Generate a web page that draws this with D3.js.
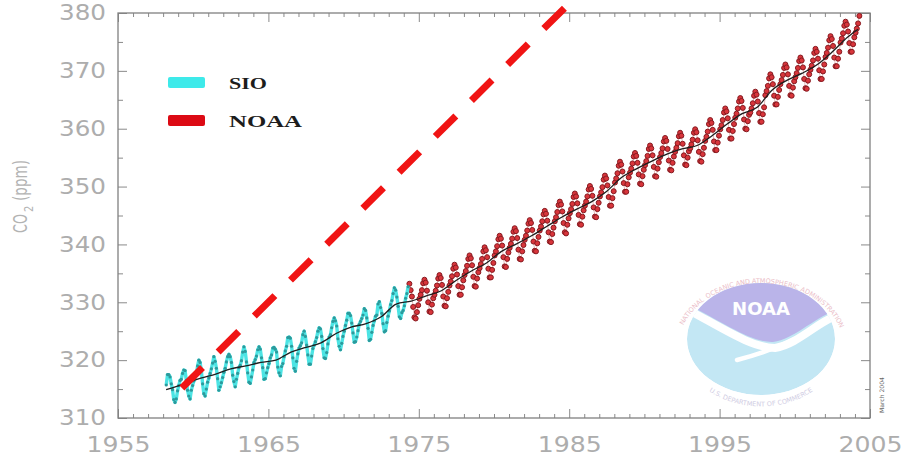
<!DOCTYPE html>
<html>
<head>
<meta charset="utf-8">
<script src="https://cdn.jsdelivr.net/npm/d3@7"></script>
<style>
  html, body { margin: 0; padding: 0; background: #fff; }
  svg { display: block; }
</style>
</head>
<body>
<svg id="chart"></svg>
<script>
// monthly CO2 (ppm), one row per year: [year, Jan..Dec]
const sioRows = [
  [1958, null, null, 315.7, 317.5, 317.5, 317.1, 315.9, 314.9, 313.2, 312.7, 313.3, 314.7],
  [1959, 315.6, 316.5, 316.7, 317.7, 318.3, 318.2, 316.5, 314.8, 313.8, 313.3, 314.8, 315.6],
  [1960, 316.4, 317.0, 317.6, 319.0, 320.0, 319.6, 318.2, 315.9, 314.2, 313.8, 315.0, 316.2],
  [1961, 316.9, 317.7, 318.5, 319.5, 320.6, 319.8, 318.6, 316.8, 314.8, 315.4, 316.1, 317.0],
  [1962, 317.9, 318.6, 319.7, 320.6, 321.0, 320.6, 319.6, 317.4, 316.3, 315.4, 316.7, 317.7],
  [1963, 318.7, 319.1, 319.9, 321.4, 322.3, 321.5, 319.7, 317.8, 316.2, 316.0, 317.1, 318.3],
  [1964, 319.6, 320.1, 320.7, 321.8, 322.3, 321.9, 320.4, 318.7, 316.7, 316.8, 317.8, 318.7],
  [1965, 319.4, 320.4, 320.9, 322.1, 322.2, 321.9, 321.4, 318.8, 317.8, 317.3, 318.9, 319.4],
  [1966, 320.6, 321.6, 322.4, 323.9, 324.0, 323.8, 322.4, 320.4, 318.6, 318.1, 319.8, 321.1],
  [1967, 322.1, 322.5, 323.0, 324.4, 325.0, 324.1, 322.6, 320.9, 319.3, 319.3, 320.7, 322.0],
  [1968, 322.6, 323.2, 323.9, 325.0, 325.6, 325.4, 324.1, 322.0, 320.4, 320.3, 321.3, 322.8],
  [1969, 324.0, 324.4, 325.6, 326.7, 327.3, 326.8, 325.9, 323.7, 322.4, 321.8, 322.9, 324.1],
  [1970, 325.0, 326.0, 326.9, 328.1, 328.1, 327.7, 326.4, 324.7, 323.1, 323.2, 324.0, 325.1],
  [1971, 326.2, 326.7, 327.2, 327.8, 328.9, 328.6, 327.3, 325.5, 323.4, 323.6, 324.8, 326.0],
  [1972, 326.8, 327.6, 327.8, 329.7, 330.1, 329.1, 328.1, 326.3, 324.9, 325.1, 326.5, 327.6],
  [1973, 328.5, 329.6, 330.3, 331.5, 332.5, 332.1, 330.9, 329.3, 327.5, 327.2, 328.2, 328.6],
  [1974, 329.4, 330.7, 331.5, 332.7, null, null, null, null, null, null, null, null]
];

const noaaRows = [
  [1974, null, null, null, null, 333.2, 332.1, 331.0, 329.2, 327.4, 327.2, 328.3, 329.5],
  [1975, 330.6, 331.3, 332.1, 333.3, 333.9, 333.4, 332.0, 330.0, 328.4, 328.3, 329.6, 330.7],
  [1976, 331.3, 332.0, 332.9, 334.1, 334.7, 334.2, 333.0, 331.0, 329.4, 329.3, 330.7, 331.8],
  [1977, 332.9, 333.6, 334.5, 335.8, 336.5, 336.0, 334.8, 332.8, 331.3, 331.3, 332.6, 333.8],
  [1978, 334.7, 335.4, 336.3, 337.5, 338.1, 337.6, 336.4, 334.4, 332.8, 332.7, 334.1, 335.2],
  [1979, 335.9, 336.6, 337.5, 338.8, 339.5, 339.0, 337.8, 335.8, 334.3, 334.3, 335.6, 336.8],
  [1980, 338.1, 338.8, 339.7, 340.9, 341.5, 341.0, 339.8, 337.8, 336.2, 336.1, 337.5, 338.6],
  [1981, 339.4, 340.1, 341.0, 342.2, 342.8, 342.3, 341.1, 339.1, 337.5, 337.4, 338.8, 339.9],
  [1982, 340.8, 341.5, 342.4, 343.6, 344.2, 343.7, 342.5, 340.5, 338.9, 338.8, 340.2, 341.3],
  [1983, 342.4, 343.1, 344.0, 345.2, 345.8, 345.3, 344.1, 342.1, 340.5, 340.4, 341.8, 342.9],
  [1984, 344.0, 344.7, 345.6, 346.8, 347.4, 346.9, 345.7, 343.7, 342.1, 341.9, 343.4, 344.5],
  [1985, 345.4, 346.1, 347.0, 348.2, 348.8, 348.3, 347.1, 345.1, 343.5, 343.4, 344.8, 345.9],
  [1986, 346.7, 347.4, 348.3, 349.5, 350.1, 349.6, 348.4, 346.4, 344.8, 344.7, 346.1, 347.2],
  [1987, 348.3, 349.0, 349.9, 351.2, 351.9, 351.4, 350.2, 348.2, 346.7, 346.7, 348.0, 349.2],
  [1988, 350.7, 351.4, 352.3, 353.6, 354.3, 353.8, 352.6, 350.6, 349.1, 349.1, 350.4, 351.6],
  [1989, 352.4, 353.1, 354.0, 355.2, 355.8, 355.3, 354.1, 352.1, 350.5, 350.4, 351.8, 352.9],
  [1990, 353.7, 354.4, 355.3, 356.5, 357.1, 356.6, 355.4, 353.4, 351.8, 351.7, 353.1, 354.2],
  [1991, 355.1, 355.8, 356.6, 357.8, 358.4, 357.9, 356.5, 354.5, 352.9, 352.8, 354.1, 355.2],
  [1992, 356.0, 356.7, 357.5, 358.7, 359.3, 358.8, 357.4, 355.4, 353.8, 353.7, 355.0, 356.1],
  [1993, 356.6, 357.3, 358.1, 359.3, 359.9, 359.4, 358.0, 356.0, 354.4, 354.3, 355.6, 356.7],
  [1994, 357.9, 358.6, 359.5, 360.8, 361.5, 361.0, 359.8, 357.8, 356.3, 356.3, 357.6, 358.8],
  [1995, 359.9, 360.6, 361.5, 362.8, 363.5, 363.0, 361.8, 359.8, 358.3, 358.3, 359.6, 360.8],
  [1996, 361.9, 362.6, 363.5, 364.7, 365.3, 364.8, 363.6, 361.6, 360.0, 359.9, 361.3, 362.4],
  [1997, 362.8, 363.5, 364.4, 365.7, 366.4, 365.9, 364.7, 362.7, 361.2, 361.2, 362.5, 363.7],
  [1998, 365.8, 366.5, 367.4, 368.7, 369.4, 368.9, 367.7, 365.7, 364.2, 364.2, 365.5, 366.7],
  [1999, 367.7, 368.4, 369.3, 370.5, 371.1, 370.6, 369.4, 367.4, 365.8, 365.7, 367.1, 368.2],
  [2000, 368.9, 369.6, 370.5, 371.7, 372.3, 371.8, 370.6, 368.6, 367.0, 366.9, 368.3, 369.4],
  [2001, 370.2, 370.9, 371.8, 373.1, 373.8, 373.3, 372.1, 370.1, 368.6, 368.6, 369.9, 371.1],
  [2002, 372.4, 373.1, 374.0, 375.3, 376.0, 375.5, 374.3, 372.3, 370.8, 370.8, 372.1, 373.3],
  [2003, 374.9, 375.6, 376.5, 377.8, 378.5, 378.0, 376.8, 374.8, 373.3, 373.3, 374.6, 375.8],
  [2004, 376.6, 377.3, 378.2, 379.5, null, null, null, null, null, null, null, null]
];

// smoothed (deseasonalised) trend
const trendYears = [1958.2, 1959.5, 1960.5, 1961.5, 1962.5, 1963.5, 1964.5, 1965.5, 1966.5, 1967.5,
  1968.5, 1969.5, 1970.5, 1971.5, 1972.5, 1973.5, 1974.5, 1975.5, 1976.5, 1977.5, 1978.5, 1979.5,
  1980.5, 1981.5, 1982.5, 1983.5, 1984.5, 1985.5, 1986.5, 1987.5, 1988.5, 1989.5, 1990.5, 1991.5,
  1992.5, 1993.5, 1994.5, 1995.5, 1996.5, 1997.5, 1998.5, 1999.5, 2000.5, 2001.5, 2002.5, 2003.5, 2004.2];
const trendValues = [314.9, 316.0, 316.9, 317.6, 318.5, 319.0, 319.6, 320.0, 321.4, 322.2,
  323.0, 324.6, 325.7, 326.3, 327.5, 329.7, 330.2, 331.1, 332.0, 333.8, 335.4, 336.8,
  338.8, 340.1, 341.5, 343.1, 344.7, 346.1, 347.4, 349.2, 351.6, 353.1, 354.4, 355.6,
  356.5, 357.1, 358.8, 360.8, 362.6, 363.7, 366.7, 368.4, 369.6, 371.1, 373.3, 375.8, 377.2];

// red dashed straight line
const projYears = [1959.25, 1984.9];
const projValues = [315.2, 381.4];

const legendLabels = ['SIO', 'NOAA'];
const legendColors = ['#3eeaea', '#dc0a14'];

const xTicks = [1955, 1965, 1975, 1985, 1995, 2005];
const yTicks = [310, 320, 330, 340, 350, 360, 370, 380];

const width = 908, height = 457;
const margin = { top: 13, right: 38, bottom: 39, left: 118 };

const svg = d3.select('#chart').attr('width', width).attr('height', height);

const x = d3.scaleLinear().domain([1955, 2005]).range([margin.left, width - margin.right]);
const y = d3.scaleLinear().domain([310, 380]).range([height - margin.bottom, margin.top]);

const flatten = rows => rows.flatMap(r => r.slice(1).map((v, m) => ({ t: r[0] + (m + 0.5) / 12, v })))
  .filter(d => d.v != null);
const sio = flatten(sioRows);
const noaa = flatten(noaaRows);

// ---- NOAA logo (background) ----
const logo = svg.append('g').attr('opacity', 0.85);
const lcx = 761, lcy = 339;
const defs = svg.append('defs');
defs.append('clipPath').attr('id', 'disc')
  .append('ellipse').attr('cx', lcx).attr('cy', lcy).attr('rx', 74).attr('ry', 56);
const disc = logo.append('g').attr('clip-path', 'url(#disc)');
disc.append('ellipse').attr('cx', lcx).attr('cy', lcy).attr('rx', 74).attr('ry', 56).attr('fill', '#b9e3f3');
disc.append('path')
  .attr('d', `M${lcx - 80},${lcy - 60} L${lcx - 80},${lcy - 38} C${lcx - 40},${lcy - 18} ${lcx - 10},${lcy + 4} ${lcx + 12},${lcy + 3}
    C${lcx + 35},${lcy} ${lcx + 55},${lcy - 24} ${lcx + 80},${lcy - 30} L${lcx + 80},${lcy - 60} Z`)
  .attr('fill', '#aea8e6');
disc.append('path')
  .attr('d', `M${lcx - 80},${lcy - 33} C${lcx - 40},${lcy - 12} ${lcx - 10},${lcy + 9} ${lcx + 14},${lcy + 9}
    C${lcx + 38},${lcy + 5} ${lcx + 58},${lcy - 19} ${lcx + 80},${lcy - 25}`)
  .attr('fill', 'none').attr('stroke', '#fff').attr('stroke-width', 8);
disc.append('path')
  .attr('d', `M${lcx - 24},${lcy + 21} C${lcx},${lcy + 15} ${lcx + 20},${lcy + 7} ${lcx + 36},${lcy - 1}`)
  .attr('fill', 'none').attr('stroke', '#fff').attr('stroke-width', 4.5).attr('stroke-linecap', 'round');
logo.append('text')
  .attr('x', lcx - 29).attr('y', lcy - 24)
  .attr('textLength', 58).attr('lengthAdjust', 'spacingAndGlyphs')
  .attr('font-family', 'DejaVu Sans').attr('font-weight', 'bold').attr('font-size', 18)
  .attr('fill', '#fff').text('NOAA');
defs.append('path').attr('id', 'ringTop')
  .attr('d', `M${lcx - 84},${lcy + 12} A84,68 0 0 1 ${lcx + 84},${lcy + 12}`);
defs.append('path').attr('id', 'ringBot')
  .attr('d', `M${lcx - 72},${lcy + 32} A82,68 0 0 0 ${lcx + 72},${lcy + 32}`);
const ringWords = [['NATIONAL', '18%'], ['OCEANIC', '32.5%'], ['AND', '42.5%'], ['ATMOSPHERIC', '56%'], ['ADMINISTRATION', '78.5%']];
ringWords.forEach(([w, off]) => {
  logo.append('text').attr('font-family', 'DejaVu Sans').attr('font-size', 6.5).attr('fill', '#e8b3be')
    .append('textPath').attr('href', '#ringTop').attr('startOffset', off).attr('text-anchor', 'middle')
    .text(w);
});
logo.append('text').attr('font-family', 'DejaVu Sans').attr('font-size', 6.5).attr('fill', '#c9c5de')
  .append('textPath').attr('href', '#ringBot').attr('startOffset', '50%').attr('text-anchor', 'middle')
  .text('U.S. DEPARTMENT OF COMMERCE');

// ---- axes ----
const styleAxis = g => {
  g.select('.domain').remove();
  g.selectAll('line').attr('stroke', '#8a8a8a').attr('stroke-width', 1);
};
const yMinor = d3.range(315, 380, 10);
const xMinor = d3.range(1956, 2005).filter(v => v % 10 !== 5);

svg.append('g').attr('transform', `translate(${margin.left},0)`)
  .call(d3.axisLeft(y).tickValues(yTicks).tickSize(-9).tickPadding(12).tickFormat(d3.format('d')))
  .call(styleAxis)
  .call(g => g.selectAll('text')
    .attr('font-family', 'DejaVu Sans').attr('font-size', 21).attr('fill', '#adadad')
    .attr('textLength', 47).attr('lengthAdjust', 'spacingAndGlyphs'));
svg.append('g').attr('transform', `translate(${margin.left},0)`)
  .call(d3.axisLeft(y).tickValues(yMinor).tickSize(-5).tickFormat(''))
  .call(styleAxis);
svg.append('g').attr('transform', `translate(${width - margin.right},0)`)
  .call(d3.axisRight(y).tickValues(yTicks).tickSize(-9).tickFormat(''))
  .call(styleAxis);
svg.append('g').attr('transform', `translate(${width - margin.right},0)`)
  .call(d3.axisRight(y).tickValues(yMinor).tickSize(-5).tickFormat(''))
  .call(styleAxis);

svg.append('g').attr('transform', `translate(0,${height - margin.bottom})`)
  .call(d3.axisBottom(x).tickValues(xTicks).tickSize(-9).tickFormat(d3.format('d')))
  .call(styleAxis)
  .call(g => g.selectAll('text')
    .attr('y', 34).attr('dy', null)
    .attr('font-family', 'DejaVu Sans').attr('font-size', 21).attr('fill', '#adadad')
    .attr('textLength', 64).attr('lengthAdjust', 'spacingAndGlyphs'));
svg.append('g').attr('transform', `translate(0,${height - margin.bottom})`)
  .call(d3.axisBottom(x).tickValues(xMinor).tickSize(-4).tickFormat(''))
  .call(styleAxis);
svg.append('g').attr('transform', `translate(0,${margin.top})`)
  .call(d3.axisTop(x).tickValues(xTicks).tickSize(-9).tickFormat(''))
  .call(styleAxis);
svg.append('g').attr('transform', `translate(0,${margin.top})`)
  .call(d3.axisTop(x).tickValues(xMinor).tickSize(-4).tickFormat(''))
  .call(styleAxis);

svg.append('rect')
  .attr('x', margin.left).attr('y', margin.top)
  .attr('width', width - margin.left - margin.right)
  .attr('height', height - margin.top - margin.bottom)
  .attr('fill', 'none').attr('stroke', '#808080').attr('stroke-width', 1.3);

// y title: CO2 (ppm), rotated
const yt = svg.append('g').attr('transform', 'translate(27,0) rotate(-90) scale(1,1.25)')
  .attr('font-family', 'DejaVu Sans').attr('fill', '#b3b3b3');
yt.append('text').attr('x', -233).attr('y', 0).attr('font-size', 15)
  .attr('textLength', 19).attr('lengthAdjust', 'spacingAndGlyphs').text('CO');
yt.append('text').attr('x', -212).attr('y', 5).attr('font-size', 10).text('2');
yt.append('text').attr('x', -201).attr('y', 0).attr('font-size', 15)
  .attr('textLength', 41).attr('lengthAdjust', 'spacingAndGlyphs').text('(ppm)');

// ---- data ----
const line = d3.line().x(d => x(d.t)).y(d => y(d.v));

svg.append('path').datum(noaa)
  .attr('d', line).attr('fill', 'none')
  .attr('stroke', '#b83838').attr('stroke-width', 0.7).attr('opacity', 0.5);
svg.append('g').selectAll('circle').data(noaa).join('circle')
  .attr('cx', d => x(d.t)).attr('cy', d => y(d.v)).attr('r', 2.5)
  .attr('fill', '#d8353b').attr('stroke', '#861a20').attr('stroke-width', 1);

svg.append('path').datum(sio)
  .attr('d', line).attr('fill', 'none')
  .attr('stroke', '#4ce4e4').attr('stroke-width', 3.4).attr('stroke-linejoin', 'round');
svg.append('g').selectAll('circle').data(sio).join('circle')
  .attr('cx', d => x(d.t)).attr('cy', d => y(d.v)).attr('r', 1.6)
  .attr('fill', '#2c9a9c');

const trend = trendYears.map((t, i) => ({ t, v: trendValues[i] }));
svg.append('path').datum(trend)
  .attr('d', line.curve(d3.curveMonotoneX)).attr('fill', 'none')
  .attr('stroke', '#1e1e1e').attr('stroke-width', 1.3);

const proj = projYears.map((t, i) => ({ t, v: projValues[i] }));
svg.append('path').datum(proj)
  .attr('d', d3.line().x(d => x(d.t)).y(d => y(d.v))).attr('fill', 'none')
  .attr('stroke', '#f01414').attr('stroke-width', 7).attr('stroke-dasharray', '29,22');

// ---- legend ----
const legend = svg.append('g');
legendLabels.forEach((lab, i) => {
  const cy = 82.5 + i * 38;
  legend.append('rect')
    .attr('x', 168).attr('y', cy - 5.5).attr('width', 37).attr('height', 11).attr('rx', 2)
    .attr('fill', legendColors[i]);
  legend.append('text')
    .attr('x', 229).attr('y', cy + 6.5)
    .attr('font-family', 'Liberation Serif').attr('font-weight', 'bold').attr('font-size', 17)
    .attr('fill', '#1c1c1c')
    .attr('textLength', i === 0 ? 38 : 73).attr('lengthAdjust', 'spacingAndGlyphs')
    .text(lab);
});

// tiny date stamp at the right
svg.append('text')
  .attr('transform', 'translate(884,413) rotate(-90)')
  .attr('font-family', 'DejaVu Sans').attr('font-size', 6).attr('fill', '#666')
  .attr('textLength', 36).attr('lengthAdjust', 'spacingAndGlyphs')
  .text('March 2004');
</script>
</body>
</html>
